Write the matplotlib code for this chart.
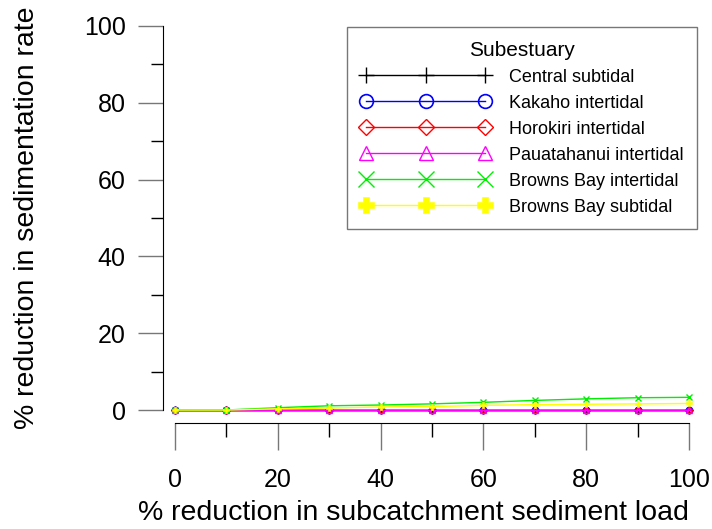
import matplotlib.pyplot as plt
from matplotlib.ticker import MultipleLocator

plt.rcParams['font.family'] = ['Liberation Sans', 'DejaVu Sans']

load_reduction = [0, 10, 20, 30, 40, 50, 60, 70, 80, 90, 100]
central_subtidal = [0, 0, 0, 0, 0, 0, 0, 0, 0, 0, 0]
kakaho_intertidal = [0, 0, 0, 0, 0, 0, 0, 0, 0, 0, 0]
horokiri_intertidal = [0, 0, 0, 0, 0, 0, 0, 0, 0, 0, 0]
pauatahanui_intertidal = [0, 0, 0, 0, 0, 0, 0, 0, 0, 0, 0]
browns_bay_intertidal = [0, 0, 0.6, 1.1, 1.3, 1.6, 2.0, 2.5, 2.9, 3.2, 3.3]
browns_bay_subtidal = [0, 0, 0.3, 0.5, 0.8, 0.9, 1.2, 1.4, 1.5, 1.6, 1.7]

# marker styles (plot markers are half the legend size)
series = [
    ("Central subtidal", central_subtidal, 'black', '+', dict(markersize=5.5, markeredgewidth=1.0)),
    ("Kakaho intertidal", kakaho_intertidal, 'blue', 'o', dict(markersize=4.5, markerfacecolor='none', markeredgewidth=1.2)),
    ("Horokiri intertidal", horokiri_intertidal, 'red', 'D', dict(markersize=3.5, markerfacecolor='none', markeredgewidth=1.0)),
    ("Pauatahanui intertidal", pauatahanui_intertidal, 'magenta', '^', dict(markersize=4.5, markerfacecolor='none', markeredgewidth=1.0)),
    ("Browns Bay intertidal", browns_bay_intertidal, '#00ee00', 'x', dict(markersize=5, markeredgewidth=1.0)),
    ("Browns Bay subtidal", browns_bay_subtidal, 'yellow', 'P', dict(markersize=5, markeredgewidth=0.4)),
]

fig = plt.figure(figsize=(7.12, 5.29), dpi=100)
ax = fig.add_axes([175 / 712, 1 - 410 / 529, 514 / 712, 384 / 529])

for name, vals, col, mk, kw in series:
    ax.plot(load_reduction, vals, color=col, marker=mk, linewidth=1, label=name, clip_on=False, **kw)

ax.set_xlim(0, 100)
ax.set_ylim(0, 100)
ax.xaxis.set_major_locator(MultipleLocator(20))
ax.xaxis.set_minor_locator(MultipleLocator(10))
ax.yaxis.set_major_locator(MultipleLocator(20))
ax.yaxis.set_minor_locator(MultipleLocator(10))

ax.spines['top'].set_visible(False)
ax.spines['right'].set_visible(False)
ax.spines['left'].set_position(('outward', 8.6))
ax.spines['bottom'].set_position(('outward', 9.4))
ax.tick_params(axis='y', which='major', direction='out', length=18, width=1, labelsize=18, pad=9,
               colors='#777777', labelcolor='black')
ax.tick_params(axis='y', which='minor', direction='out', length=9, width=1)
ax.tick_params(axis='x', which='major', direction='out', length=19.5, width=1, labelsize=18, pad=13,
               colors='#777777', labelcolor='black')
ax.tick_params(axis='x', which='minor', direction='out', length=10, width=1)

ax.set_xlabel('% reduction in subcatchment sediment load', fontsize=20.5)
ax.set_ylabel('% reduction in sedimentation rate', fontsize=20.5)
ax.xaxis.set_label_coords(0.463, -0.235)
ax.yaxis.set_label_coords(-0.263, 0.5)

leg = ax.legend(title='Subestuary', loc='upper right', bbox_to_anchor=(697 / 712, 1 - 27 / 529),
                bbox_transform=fig.transFigure, borderaxespad=0, numpoints=3, handlelength=7.2,
                markerscale=2.2, fontsize=13, title_fontsize=15, frameon=True, fancybox=False,
                edgecolor='#555555', borderpad=0.75, labelspacing=0.5, handletextpad=1.0)
leg.get_frame().set_linewidth(1)

fig.savefig('out.png', dpi=100)
